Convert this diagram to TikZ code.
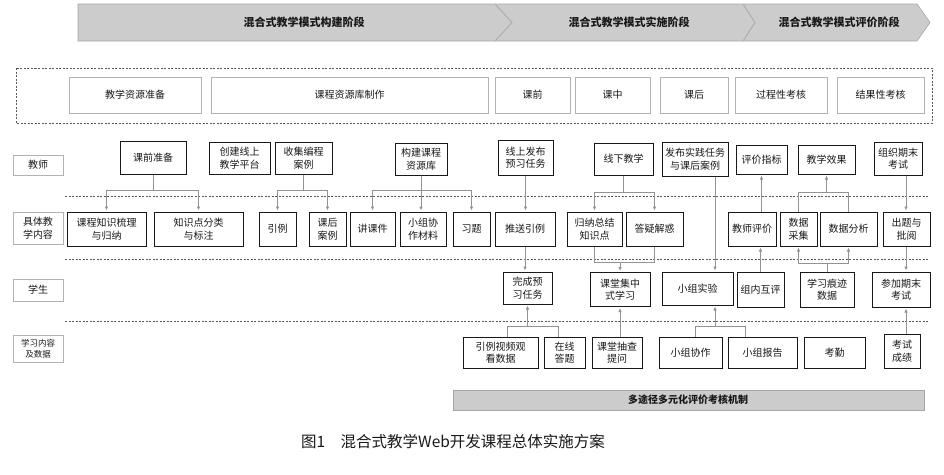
\documentclass[tikz,border=0pt]{standalone}
\usepackage{fontspec}
\setmainfont{Noto Sans CJK SC}
\usetikzlibrary{arrows.meta}
\newcommand\mybox[7]{\node[#1,minimum width=#5,minimum height=#6] (#2) at (#3,#4) {#7};}
\begin{document}
\begin{tikzpicture}[x=1pt,y=-1pt,
  bx/.style={draw=black!90, line width=1pt, inner sep=1pt, align=center, font=\fontsize{10}{12.5}\selectfont, text=black!90},
  gbx/.style={draw=gray!60, line width=0.8pt, inner sep=1pt, align=center, font=\fontsize{10}{12.5}\selectfont, text=black!90},
  ln/.style={draw=gray!85, line width=0.8pt},
  arr/.style={ln, -{Latex[length=4pt,width=3.5pt]}, shorten >=1pt},
  dl/.style={draw=black!65, line width=0.8pt, dash pattern=on 2pt off 1.5pt},
  ban/.style={fill=gray!40, draw=gray!70, line width=0.6pt},
  bant/.style={font=\bfseries\fontsize{11}{13}\selectfont, text=black!90},
]
\useasboundingbox (0,0) rectangle (944,474);
\fill[white] (0,0) rectangle (944,474);

% top phase banner
\path[ban] (78,4) -- (917,4) -- (930,22.5) -- (917,41) -- (78,41) -- cycle;
\draw[draw=gray!65, line width=0.9pt] (495,4) -- (512,22.5) -- (495,41);
\draw[draw=gray!65, line width=0.9pt] (743,4) -- (755,22.5) -- (743,41);
\node[bant] (ph1) at (304,22.5) {混合式教学模式构建阶段};
\node[bant] (ph2) at (629,22.5) {混合式教学模式实施阶段};
\node[bant] (ph3) at (839,22.5) {混合式教学模式评价阶段};

% stage boxes
\draw[dl] (16,68) rectangle (932,123);
\mybox{gbx}{p1}{135}{95}{132}{36}{教学资源准备}
\mybox{gbx}{p2}{349.5}{95}{277}{36}{课程资源库制作}
\mybox{gbx}{p3}{532.5}{95}{75}{36}{课前}
\mybox{gbx}{p4}{612.5}{95}{75}{36}{课中}
\mybox{gbx}{p5}{694}{95}{68}{36}{课后}
\mybox{gbx}{p6}{781}{95}{92}{36}{过程性考核}
\mybox{gbx}{p7}{880.5}{95}{87}{36}{结果性考核}

% row separators
\draw[dl] (65,196) -- (928,196);
\draw[dl] (65,259) -- (928,259);
\draw[dl] (65,321) -- (928,321);

% row labels
\mybox{gbx}{lt}{38}{165}{50}{20}{教师}
\mybox{gbx}{lc}{38}{228}{50}{32}{具体教\\学内容}
\mybox{gbx}{ls}{38}{290}{50}{22}{学生}
\mybox{gbx,font=\fontsize{8.5}{10.5}\selectfont}{ld}{38}{348.5}{50}{27}{学习内容\\及数据}

% teacher row
\mybox{bx}{t1}{153}{157.5}{66}{33}{课前准备}
\mybox{bx}{t2}{239.5}{158}{61}{32}{创建线上\\教学平台}
\mybox{bx}{t3}{303.5}{158}{57}{32}{收集编程\\案例}
\mybox{bx}{t4}{421}{159}{52}{32}{构建课程\\资源库}
\mybox{bx}{t5}{525.5}{157.5}{55}{35}{线上发布\\预习任务}
\mybox{bx}{t6}{623.5}{159}{59}{32}{线下教学}
\mybox{bx}{t7}{695}{159}{66}{34}{发布实践任务\\与课后案例}
\mybox{bx}{t8}{761.5}{159.5}{51}{29}{评价指标}
\mybox{bx}{t9}{826.5}{159.5}{57}{29}{教学效果}
\mybox{bx}{t10}{898}{158.5}{48}{33}{组织期末\\考试}

% content row
\mybox{bx}{c1}{106.5}{229}{79}{34}{课程知识梳理\\与归纳}
\mybox{bx}{c2}{198.5}{229}{89}{34}{知识点分类\\与标注}
\mybox{bx}{c3}{277.5}{229}{37}{34}{引例}
\mybox{bx}{c4}{327.5}{229}{37}{34}{课后\\案例}
\mybox{bx}{c5}{372.5}{229}{45}{34}{讲课件}
\mybox{bx}{c6}{423}{229}{46}{34}{小组协\\作材料}
\mybox{bx}{c7}{471.5}{229}{37}{34}{习题}
\mybox{bx}{c8}{525}{229}{60}{34}{推送引例}
\mybox{bx}{c9}{594.5}{229}{55}{34}{归纳总结\\知识点}
\mybox{bx}{c10}{654.5}{229}{57}{34}{答疑解惑}
\mybox{bx}{c11}{752}{229}{48}{34}{教师评价}
\mybox{bx}{c12}{798.5}{229}{37}{34}{数据\\采集}
\mybox{bx}{c13}{848.5}{229}{57}{34}{数据分析}
\mybox{bx}{c14}{906.5}{229}{47}{34}{出题与\\批阅}

% student row
\mybox{bx}{s1}{527.5}{288}{49}{32}{完成预\\习任务}
\mybox{bx}{s2}{620}{289.5}{60}{34}{课堂集中\\式学习}
\mybox{bx}{s3}{697.5}{288.5}{71}{33}{小组实验}
\mybox{bx}{s4}{760.5}{289.5}{47}{35}{组内互评}
\mybox{bx}{s5}{827}{289.5}{54}{35}{学习痕迹\\数据}
\mybox{bx}{s6}{901}{289.5}{58}{35}{参加期末\\考试}

% data row
\mybox{bx}{d1}{500.5}{352.5}{75}{31}{引例视频观\\看数据}
\mybox{bx}{d2}{564.5}{352.5}{41}{31}{在线\\答题}
\mybox{bx}{d3}{617}{352.5}{50}{31}{课堂抽查\\提问}
\mybox{bx}{d4}{690.5}{352.5}{63}{31}{小组协作}
\mybox{bx}{d5}{762.5}{352.5}{69}{31}{小组报告}
\mybox{bx}{d6}{834.5}{352.5}{61}{31}{考勤}
\mybox{bx}{d7}{902}{351}{36}{34}{考试\\成绩}

% bottom banner and caption
\path[ban] (453,390) rectangle (924,410);
\node[bant,font=\bfseries\fontsize{10}{12}\selectfont] (mech) at (688,400) {多途径多元化评价考核机制};
\node[font=\fontsize{15.5}{18}\selectfont, text=black!90] (cap) at (453,442) {图1\hspace{1em}混合式教学Web开发课程总体实施方案};

% connectors
\coordinate (kx) at (715,0);
\coordinate (ex) at (906,0);

\draw[ln] (t1.south) -- (t1.south |- 0,190);
\draw[arr] (t1.south |- 0,190) -| (c1.north);
\draw[arr] (t1.south |- 0,190) -| (c2.north);

\draw[ln] (t3.south) -- (t3.south |- 0,190);
\draw[arr] (t3.south |- 0,190) -| (c3.north);
\draw[arr] (t3.south |- 0,190) -| (c4.north);

\draw[arr] (t4.south) -- (t4.south |- c6.north);
\draw[arr] (t4.south |- 0,190) -| (c5.north);
\draw[arr] (t4.south |- 0,190) -| (c7.north);

\draw[arr] (t5.south) -- (t5.south |- c8.north);
\draw[arr] (c8.south) -- (c8.south |- s1.north);

\draw[ln] (t6.south) -- (t6.south |- 0,192);
\draw[arr] (t6.south |- 0,192) -| (c9.north);
\draw[arr] (t6.south |- 0,192) -| (c10.north);

\draw[ln] (c9.south) -- (c9.south |- 0,262) -- (c10.south |- 0,262) -- (c10.south);
\draw[arr] (s2.north |- 0,262) -- (s2.north);

\draw[arr] (kx |- t7.south) -- (kx |- s3.north);

\draw[arr] (t8.south |- c11.north) -- (t8.south);
\draw[arr] (s4.north) -- (s4.north |- c11.south);

\draw[ln] (c12.north) -- (c12.north |- 0,192) -- (c13.north |- 0,192) -- (c13.north);
\draw[arr] (t9.south |- 0,192) -- (t9.south);

\draw[ln] (s5.north) -- (s5.north |- 0,263);
\draw[arr] (s5.north |- 0,263) -| (c12.south);
\draw[arr] (s5.north |- 0,263) -| (c13.south);

\draw[arr] (ex |- t10.south) -- (ex |- c14.north);
\draw[arr] (ex |- c14.south) -- (ex |- s6.north);
\draw[arr] (ex |- d7.north) -- (ex |- s6.south);

\draw[arr] (s2.south |- d3.north) -- (s2.south);

\draw[ln] (d1.north -| 507,0) -- (507,326) -- (558,326) -- (d2.north -| 558,0);
\draw[arr] (s1.south |- 0,326) -- (s1.south);

\draw[ln] (d4.north -| 695,0) -- (695,326) -- (745,326) -- (d5.north -| 745,0);
\draw[arr] (kx |- 0,326) -- (kx |- s3.south);
\end{tikzpicture}
\end{document}
